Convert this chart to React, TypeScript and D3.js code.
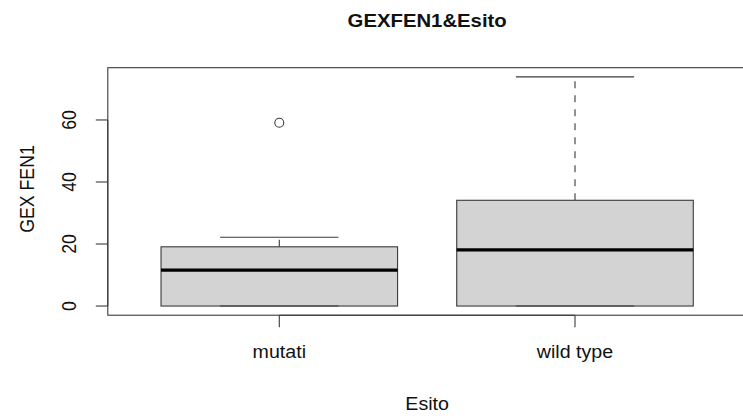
import React from "react";
import * as d3 from "d3";

// Five-number summaries per group (min, Q1, median, Q3, max) plus outliers
const groups = ["mutati", "wild type"];
const whiskerLow = [0, 0];
const q1 = [0, 0];
const medians = [11.6, 18.1];
const q3 = [19.1, 34.1];
const whiskerHigh = [22.2, 73.9];
const outliers: number[][] = [[59.1], []];
const yTicks = [0, 20, 40, 60];

const title = "GEXFEN1&Esito";
const xLabel = "Esito";
const yLabel = "GEX FEN1";

const W = 743;
const H = 416;
const plot = { left: 107.8, right: 746.5, top: 67.7, bottom: 315.2 };
const FONT = "'Liberation Sans', Arial, Helvetica, sans-serif";
const LINE = "#3a3a3a";
const FS = 17.7;
const STRETCH = 1.11; // device aspect: glyphs are wider than tall

function HText(props: { x: number; y: number; size: number; bold?: boolean; children: React.ReactNode }) {
  return (
    <text
      transform={`translate(${props.x},${props.y}) scale(${STRETCH},1)`}
      textAnchor="middle"
      fontSize={props.size}
      fontWeight={props.bold ? "bold" : "normal"}
      fill="#111"
    >
      {props.children}
    </text>
  );
}

export default function App() {
  const allVals = [...whiskerLow, ...whiskerHigh, ...outliers.flat()];
  const lo = d3.min(allVals) as number;
  const hi = d3.max(allVals) as number;
  const pad = (hi - lo) * 0.04;
  const y = d3.scaleLinear().domain([lo - pad, hi + pad]).range([plot.bottom, plot.top]);
  const n = groups.length;
  const xPad = n * 0.04;
  const x = d3.scaleLinear().domain([0.5 - xPad, n + 0.5 + xPad]).range([plot.left, plot.right]);
  const boxHalf = x(1.4) - x(1);
  const capHalf = x(1.2) - x(1);

  return (
    <svg
      width={W}
      height={H}
      style={{ position: "absolute", left: 0, top: 0, display: "block", background: "#fff" }}
      fontFamily={FONT}
    >
      <rect x={0} y={0} width={W} height={H} fill="#fff" />
      <HText x={(plot.left + plot.right) / 2} y={27} size={18.3} bold>
        {title}
      </HText>

      {groups.map((g, i) => {
        const cx = x(i + 1);
        return (
          <g key={g}>
            {/* whiskers */}
            <line x1={cx} x2={cx} y1={y(q3[i])} y2={y(whiskerHigh[i])} stroke={LINE} strokeWidth={1.1} strokeDasharray="7,7" />
            <line x1={cx} x2={cx} y1={y(q1[i])} y2={y(whiskerLow[i])} stroke={LINE} strokeWidth={1.1} strokeDasharray="7,7" />
            <line x1={cx - capHalf} x2={cx + capHalf} y1={y(whiskerHigh[i])} y2={y(whiskerHigh[i])} stroke={LINE} strokeWidth={1.1} />
            {/* box */}
            <rect
              x={cx - boxHalf}
              width={boxHalf * 2}
              y={y(q3[i])}
              height={y(q1[i]) - y(q3[i])}
              fill="#d3d3d3"
              stroke={LINE}
              strokeWidth={1.1}
            />
            <line x1={cx - capHalf} x2={cx + capHalf} y1={y(whiskerLow[i])} y2={y(whiskerLow[i])} stroke={LINE} strokeWidth={1.1} />
            <line x1={cx - boxHalf} x2={cx + boxHalf} y1={y(medians[i])} y2={y(medians[i])} stroke="#000" strokeWidth={3.3} />
            {outliers[i].map((v, k) => (
              <circle key={k} cx={cx} cy={y(v)} r={4.5} fill="none" stroke={LINE} strokeWidth={1.1} />
            ))}
          </g>
        );
      })}

      {/* frame */}
      <rect
        x={plot.left}
        y={plot.top}
        width={plot.right - plot.left}
        height={plot.bottom - plot.top}
        fill="none"
        stroke={LINE}
        strokeWidth={1.1}
      />

      {/* y axis */}
      <line x1={plot.left} x2={plot.left} y1={y(yTicks[0])} y2={y(yTicks[yTicks.length - 1])} stroke={LINE} strokeWidth={1.1} />
      {yTicks.map((t) => (
        <g key={t}>
          <line x1={plot.left - 12} x2={plot.left} y1={y(t)} y2={y(t)} stroke={LINE} strokeWidth={1.1} />
          <text
            transform={`translate(${75.5},${y(t)}) scale(${STRETCH},1) rotate(-90)`}
            textAnchor="middle"
            fontSize={FS}
            fill="#111"
          >
            {t}
          </text>
        </g>
      ))}

      {/* x axis */}
      <line x1={x(1)} x2={x(n)} y1={plot.bottom} y2={plot.bottom} stroke={LINE} strokeWidth={1.1} />
      {groups.map((g, i) => (
        <g key={g}>
          <line x1={x(i + 1)} x2={x(i + 1)} y1={plot.bottom} y2={plot.bottom + 12} stroke={LINE} strokeWidth={1.1} />
          <HText x={x(i + 1)} y={358} size={FS}>
            {g}
          </HText>
        </g>
      ))}

      <HText x={(plot.left + plot.right) / 2} y={410} size={FS}>
        {xLabel}
      </HText>
      <text
        transform={`translate(${33.5},${189}) scale(${STRETCH},1) rotate(-90)`}
        textAnchor="middle"
        fontSize={FS}
        fill="#111"
      >
        {yLabel}
      </text>
    </svg>
  );
}
